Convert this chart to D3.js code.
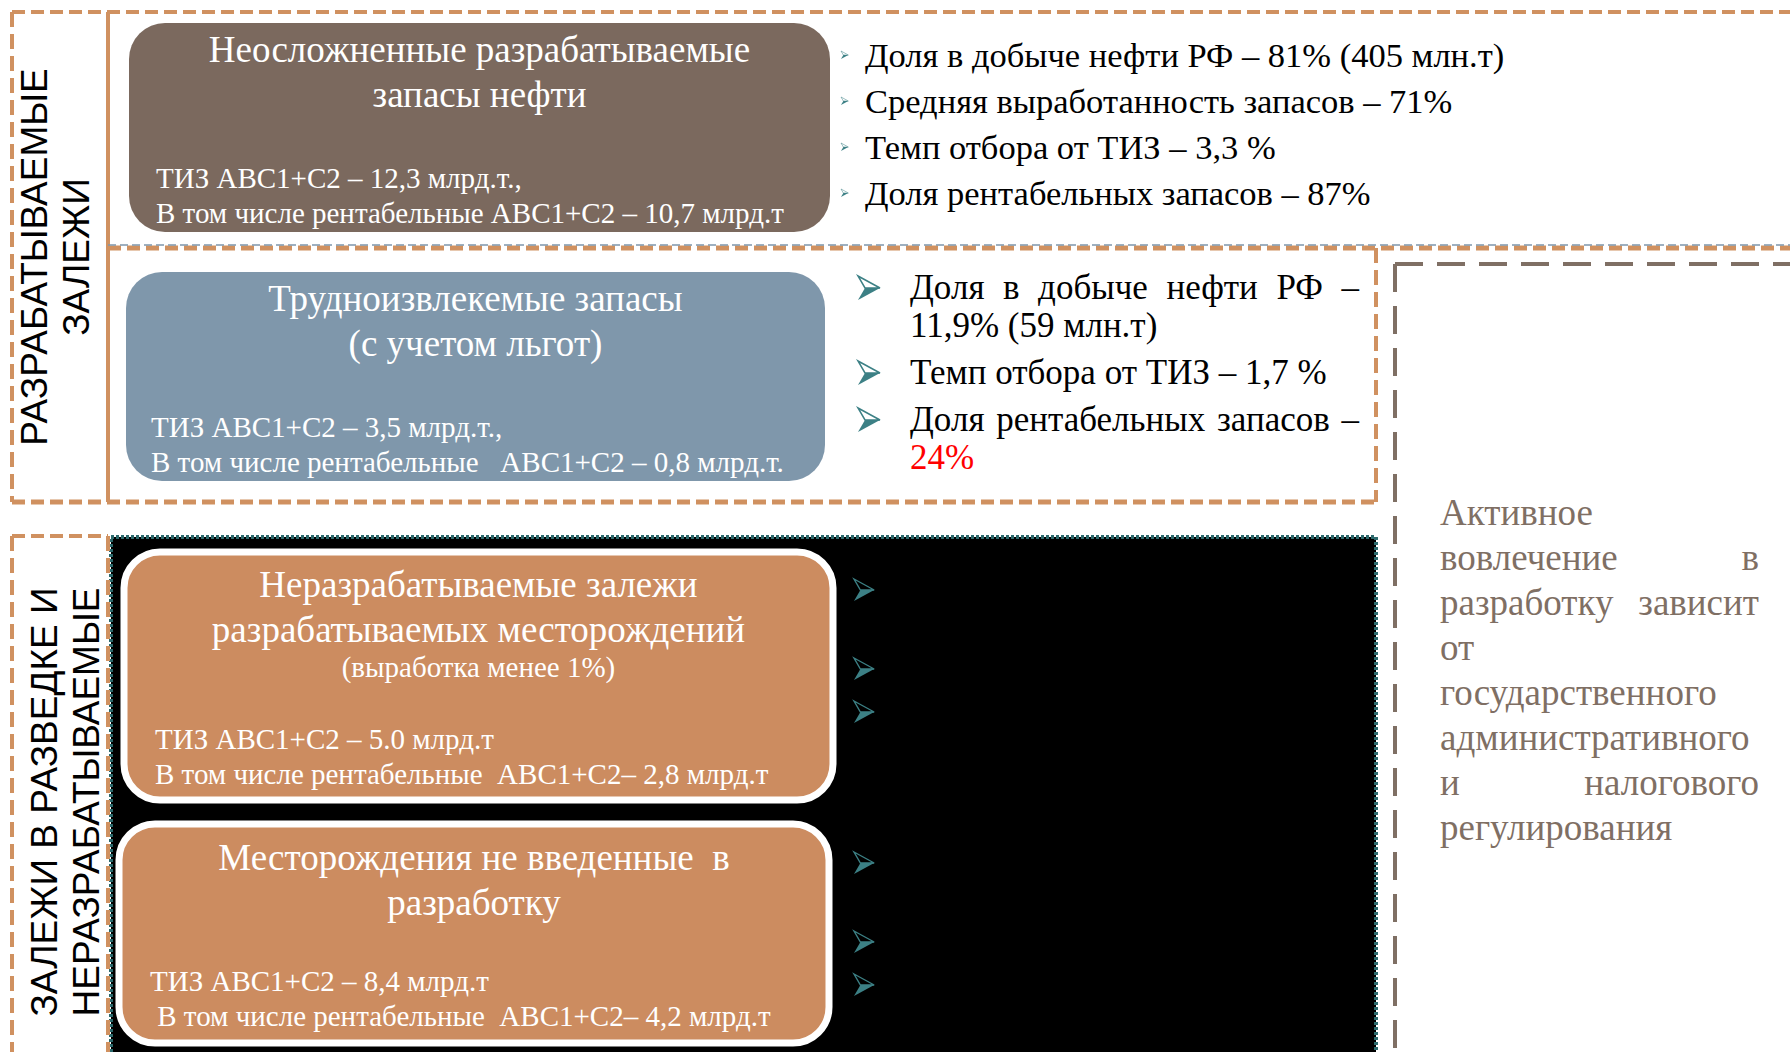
<!DOCTYPE html><html>
<head>
  <meta charset="utf-8">
  <title>Запасы нефти</title>
  <style>
    body { margin: 0; background: #fff; }
    svg { display: block; }
    .serif { font-family: "Liberation Serif", "Times New Roman", serif; }
    .sans  { font-family: "Liberation Sans", Arial, sans-serif; }
  </style>
</head><body>

<svg width="1790" height="1052"></svg>

<script src="https://cdn.jsdelivr.net/npm/d3@7"></script>
<script>
// ---- content ----
const sectionLabels = [
  ["РАЗРАБАТЫВАЕМЫЕ", "ЗАЛЕЖИ"],
  ["ЗАЛЕЖИ В РАЗВЕДКЕ И", "НЕРАЗРАБАТЫВАЕМЫЕ"]
];
const boxTitles = [
  ["Неосложненные разрабатываемые", "запасы нефти"],
  ["Трудноизвлекемые запасы", "(с учетом льгот)"],
  ["Неразрабатываемые залежи", "разрабатываемых месторождений"],
  ["Месторождения не введенные  в", "разработку"]
];
const boxSubtitles = ["", "", "(выработка менее 1%)", ""];
const boxNotes = [
  ["ТИЗ АВС1+С2 – 12,3 млрд.т.,", "В том числе рентабельные АВС1+С2 – 10,7 млрд.т"],
  ["ТИЗ АВС1+С2 – 3,5 млрд.т.,", "В том числе рентабельные   АВС1+С2 – 0,8 млрд.т."],
  ["ТИЗ АВС1+С2 – 5.0 млрд.т", "В том числе рентабельные  АВС1+С2– 2,8 млрд.т"],
  ["ТИЗ АВС1+С2 – 8,4 млрд.т", " В том числе рентабельные  АВС1+С2– 4,2 млрд.т"]
];
const topBullets = [
  "Доля в добыче нефти РФ – 81% (405 млн.т)",
  "Средняя выработанность запасов – 71%",
  "Темп отбора от ТИЗ – 3,3 %",
  "Доля рентабельных запасов – 87%"
];
const midBullets = [
  ["Доля в добыче нефти РФ –", "11,9% (59 млн.т)"],
  ["Темп отбора от ТИЗ – 1,7 %"],
  ["Доля рентабельных запасов –", "24%"]
];
const accentValue = "24%";
// bullets in the black area have no visible text; number of lines each one takes
const hiddenBulletLines = [[2, 1, 1], [2, 1, 1]];
const sideText = ["Активное", "вовлечение в", "разработку зависит", "от",
  "государственного", "административного", "и налогового", "регулирования"];

// ---- colours ----
const orange = "#d09160", teal = "#3c8085", greyBrown = "#7f6f64";

const svg = d3.select("svg");

// ---- frames ----
function line(x1, y1, x2, y2, stroke, w, dash) {
  svg.append("line").attr("x1", x1).attr("y1", y1).attr("x2", x2).attr("y2", y2)
    .attr("stroke", stroke).attr("stroke-width", w).attr("stroke-dasharray", dash || null);
}

// black area of the lower section
svg.append("rect").attr("x", 111).attr("y", 537).attr("width", 1265).attr("height", 530)
  .attr("fill", "#000").attr("stroke", "#2c6a6d").attr("stroke-width", 4).attr("stroke-dasharray", "3 2");

// upper section frame
line(12, 12, 1790, 12, orange, 4, "13 6");
line(12, 12, 12, 502, orange, 4, "15 7");
line(12, 502, 1376, 502, orange, 5, "13 6");
line(108, 12, 108, 502, orange, 4);
line(108, 248, 1790, 248, orange, 5, "13 6");
line(108, 245, 1790, 245, "#7f97ac", 1.5, "8 4");
line(1376, 248, 1376, 502, orange, 4, "15 7");

// lower label frame
line(12, 536, 108, 536, orange, 4, "13 6");
line(12, 536, 12, 1052, orange, 4, "15 7");
line(108, 536, 108, 1052, orange, 4, "15 7");

// right dashed box
line(1395, 264, 1790, 264, greyBrown, 4, "28 14");
line(1395, 264, 1395, 1052, greyBrown, 4, "28 14");

// ---- rotated section labels ----
const labelLayout = [{ cy: 257, xs: [34, 76] }, { cy: 802, xs: [44, 86] }];
sectionLabels.forEach((lines, i) => {
  lines.forEach((t, j) => {
    svg.append("text").attr("class", "sans")
      .attr("transform", `translate(${labelLayout[i].xs[j]},${labelLayout[i].cy}) rotate(-90)`)
      .attr("text-anchor", "middle").attr("dominant-baseline", "central")
      .attr("font-size", 37).attr("fill", "#000").text(t);
  });
});

// ---- boxes ----
const boxLayout = [
  { x: 129, y: 23,  w: 701, h: 209, fill: "#7b695e", stroke: "none", titleY: 62,  noteY: 188, noteX: 156 },
  { x: 126, y: 272, w: 699, h: 209, fill: "#7f97ab", stroke: "none", titleY: 311, noteY: 437, noteX: 151 },
  { x: 124, y: 552, w: 709, h: 248, fill: "#cc8c60", stroke: "#fff", titleY: 597, noteY: 749, noteX: 155 },
  { x: 119, y: 824, w: 710, h: 219, fill: "#cc8c60", stroke: "#fff", titleY: 870, noteY: 991, noteX: 150 }
];
const box = svg.selectAll("g.box").data(boxLayout).enter().append("g").attr("class", "box serif");
box.append("rect")
  .attr("x", d => d.x).attr("y", d => d.y).attr("width", d => d.w).attr("height", d => d.h)
  .attr("rx", 36).attr("fill", d => d.fill).attr("stroke", d => d.stroke).attr("stroke-width", 7);
box.each(function(d, i) {
  const g = d3.select(this), cx = d.x + d.w / 2;
  boxTitles[i].forEach((t, j) => {
    g.append("text").attr("x", cx).attr("y", d.titleY + j * 45).attr("text-anchor", "middle")
      .attr("font-size", 37).attr("fill", "#fff").style("white-space", "pre").text(t);
  });
  if (boxSubtitles[i]) {
    g.append("text").attr("x", cx).attr("y", d.titleY + 80).attr("text-anchor", "middle")
      .attr("font-size", 29).attr("fill", "#fff").text(boxSubtitles[i]);
  }
  boxNotes[i].forEach((t, j) => {
    g.append("text").attr("x", d.noteX).attr("y", d.noteY + j * 35)
      .attr("font-size", 29).attr("fill", "#fff").style("white-space", "pre").text(t);
  });
});

// ---- bullet arrows ----
function arrow(x, cy, s) {
  const g = svg.append("g").attr("transform", `translate(${x},${cy}) scale(${s / 24})`);
  g.append("path").attr("d", "M0,-12 L22,0 L7,0 Z").attr("fill", "none").attr("stroke", teal).attr("stroke-width", 1.5);
  g.append("path").attr("d", "M7,0 L22,0 L0,12 Z").attr("fill", teal);
}

// upper bullets
const yTop = d3.scaleLinear().domain([0, 3]).range([67, 205]);
topBullets.forEach((t, i) => {
  arrow(841, yTop(i) - 12, 8);
  svg.append("text").attr("class", "serif").attr("x", 865).attr("y", yTop(i))
    .attr("font-size", 34.5).attr("fill", "#000").text(t);
});

// justified lines
function justified(words, x0, x1, y, stretch, size, fill) {
  const nodes = words.map(w => svg.append("text").attr("class", "serif").attr("y", y)
    .attr("font-size", size).attr("fill", fill).text(w));
  const widths = nodes.map(n => n.node().getComputedTextLength());
  const gap = stretch && words.length > 1 ? (x1 - x0 - d3.sum(widths)) / (words.length - 1) : size * 0.25;
  let x = x0;
  nodes.forEach((n, k) => { n.attr("x", x); x += widths[k] + gap; });
}

// middle bullets
let yMid = 299;
midBullets.forEach(lines => {
  arrow(858, yMid - 11, 24);
  lines.forEach((t, j) => {
    const last = j === lines.length - 1;
    justified(t.split(" "), 910, 1359, yMid, !last, 35, t === accentValue ? "#ff0000" : "#000");
    yMid += last ? 47 : 38;
  });
});

// hidden bullets in the black area
const hiddenStart = [590, 863];
hiddenBulletLines.forEach((group, i) => {
  let y = hiddenStart[i];
  group.forEach(n => { arrow(854, y, 22); y += n * 36 + 7; });
});

// side note
const ySide = d3.scaleLinear().domain([0, sideText.length - 1]).range([525, 840]);
sideText.forEach((t, i) => {
  justified(t.split(" "), 1440, 1759, ySide(i), i < sideText.length - 1, 37, greyBrown);
});
</script>
</body></html>
